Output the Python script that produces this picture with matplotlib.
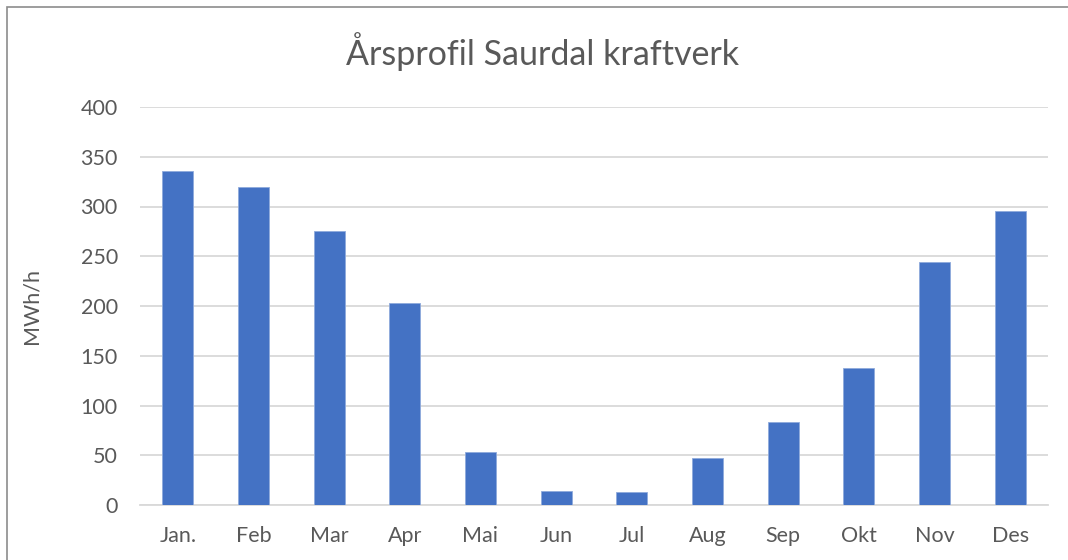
import matplotlib
matplotlib.use("Agg")
import matplotlib.pyplot as plt
from matplotlib.patches import Rectangle

months = ["Jan.", "Feb", "Mar", "Apr", "Mai", "Jun", "Jul", "Aug", "Sep", "Okt", "Nov", "Des"]
values = [336, 320, 275, 203, 53, 14, 13, 47, 83, 138, 244, 295]
yticks = [0, 50, 100, 150, 200, 250, 300, 350, 400]

plt.rcParams['font.family'] = ['Lato', 'DejaVu Sans']
text_color = "#595959"

fig = plt.figure(figsize=(10.68, 5.6), dpi=100)
fig.patches.append(Rectangle((7/1068, -0.1), 1.2, (560-7)/560 + 0.1, transform=fig.transFigure,
                             fill=False, edgecolor="#8c8c8c", linewidth=1.2))
ax = fig.add_axes([140/1068, (560-505)/560, (1048-140)/1068, (505-107)/560])

x = range(len(months))
ax.bar(x, values, width=0.41, color="#4472C4", edgecolor="#8faadc", linewidth=0.6, zorder=3)
ax.set_xlim(-0.5, len(months) - 0.5)
ax.set_ylim(0, 400)
ax.set_yticks(yticks)
ax.set_xticks(list(x))
ax.set_xticklabels(months)
ax.yaxis.grid(True, color="#d9d9d9", linewidth=1.3, zorder=0)
ax.set_axisbelow(True)
for s in ["top", "right", "left"]:
    ax.spines[s].set_visible(False)
ax.spines["bottom"].set_color("#d9d9d9")
ax.spines["bottom"].set_linewidth(1.3)
ax.tick_params(axis="both", length=0, labelsize=15.5, labelcolor=text_color)
ax.tick_params(axis="y", pad=16)
ax.tick_params(axis="x", pad=15)
ax.set_ylabel("MWh/h", fontsize=15.5, color=text_color)
ax.yaxis.set_label_coords(-(140 - 41) / 908, 0.5)
fig.text(543/1068, 1 - 52/560, "Årsprofil Saurdal kraftverk", ha="center", va="center",
         fontsize=24.5, color=text_color)

fig.savefig("out.png", dpi=100)
